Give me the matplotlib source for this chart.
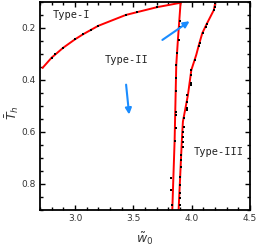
import matplotlib.pyplot as plt
from matplotlib.ticker import MultipleLocator

# Type-I boundary (line vertices and sampled points)
t1_line_w = [2.723, 2.80, 2.899, 2.999, 3.07, 3.198, 3.435, 3.703, 3.905]
t1_line_T = [0.353, 0.314, 0.276, 0.244, 0.224, 0.192, 0.150, 0.120, 0.103]
t1_pts_w = [2.80, 2.828, 2.899, 2.999, 3.07, 3.133, 3.198, 3.435, 3.532, 3.703]
t1_pts_T = [0.314, 0.301, 0.276, 0.244, 0.224, 0.209, 0.192, 0.150, 0.140, 0.120]

# left vertical boundary
t2_line_w = [3.905, 3.882, 3.868, 3.854, 3.834]
t2_line_T = [0.103, 0.246, 0.342, 0.631, 0.900]
t2_pts_w = [3.897, 3.897, 3.891, 3.874, 3.868, 3.862, 3.862, 3.862, 3.862,
            3.862, 3.854, 3.826, 3.826, 3.831]
t2_pts_T = [0.172, 0.195, 0.246, 0.295, 0.342, 0.391, 0.442, 0.524, 0.535,
            0.583, 0.633, 0.776, 0.823, 0.881]

# right boundary (Type-III)
t3_line_w = [4.202, 4.19, 4.125, 4.091, 4.062, 4.039, 3.997, 3.968, 3.925, 3.916, 3.888]
t3_line_T = [0.103, 0.131, 0.188, 0.220, 0.265, 0.304, 0.362, 0.458, 0.560, 0.631, 0.900]
t3_pts_w = [4.202, 4.196, 4.19, 4.133, 4.125, 4.096, 4.068, 4.062, 4.025, 3.997,
            3.997, 3.997, 3.997, 3.962, 3.962, 3.959, 3.959, 3.931, 3.931, 3.925,
            3.925, 3.925, 3.925, 3.911, 3.905, 3.905, 3.903, 3.897, 3.903, 3.897, 3.897]
t3_pts_T = [0.105, 0.120, 0.131, 0.185, 0.195, 0.220, 0.259, 0.269, 0.323, 0.362,
            0.381, 0.413, 0.419, 0.458, 0.483, 0.506, 0.515, 0.547, 0.580, 0.599,
            0.618, 0.637, 0.656, 0.688, 0.708, 0.733, 0.772, 0.804, 0.836, 0.855, 0.881]

fig = plt.figure(figsize=(2.58, 2.47), dpi=100)
ax = fig.add_axes([0.155, 0.150, 0.814, 0.842])

red = '#ff0000'
for lw_, lT in [(t1_line_w, t1_line_T), (t2_line_w, t2_line_T), (t3_line_w, t3_line_T)]:
    ax.plot(lw_, lT, color=red, lw=1.4, zorder=2)
for pw, pT in [(t1_pts_w, t1_pts_T), (t2_pts_w, t2_pts_T), (t3_pts_w, t3_pts_T)]:
    ax.plot(pw, pT, 's', color='black', ms=2.0, mew=0, zorder=3)

lab = dict(family='DejaVu Sans Mono', fontsize=7.5, color='#222222')
ax.text(2.97, 0.15, 'Type-I', ha='center', va='center', **lab)
ax.text(3.446, 0.323, 'Type-II', ha='center', va='center', **lab)
ax.text(4.236, 0.678, 'Type-III', ha='center', va='center', **lab)

blue = '#1a8cff'
arr = dict(arrowstyle='-|>', color=blue, lw=1.5, mutation_scale=9, shrinkA=0, shrinkB=0)
ax.annotate('', xy=(3.464, 0.533), xytext=(3.438, 0.418), arrowprops=arr)
ax.annotate('', xy=(3.982, 0.174), xytext=(3.749, 0.246), arrowprops=arr)

ax.set_xlim(2.7, 4.5)
ax.set_ylim(0.9, 0.1)
ax.xaxis.set_major_locator(MultipleLocator(0.5))
ax.xaxis.set_minor_locator(MultipleLocator(0.1))
ax.yaxis.set_major_locator(MultipleLocator(0.2))
ax.yaxis.set_minor_locator(MultipleLocator(0.05))
ax.xaxis.set_major_formatter(plt.FuncFormatter(lambda v, p: f'{v:.1f}'))
ax.yaxis.set_major_formatter(plt.FuncFormatter(lambda v, p: f'{v:.1f}'))
ax.tick_params(which='both', direction='in', top=True, right=True, width=1,
               labelsize=6.5, labelcolor='#333333', pad=3)
ax.tick_params(which='major', length=3.5)
ax.tick_params(which='minor', length=2)
for s in ax.spines.values():
    s.set_linewidth(1.3)

ax.set_xlabel(r'$\tilde{w}_0$', fontsize=9, color='#333333', labelpad=5)
ax.set_ylabel(r'$\bar{T}_h$', fontsize=9, color='#333333')
ax.yaxis.set_label_coords(-0.09, 0.47)

fig.savefig('out.png', dpi=100)
